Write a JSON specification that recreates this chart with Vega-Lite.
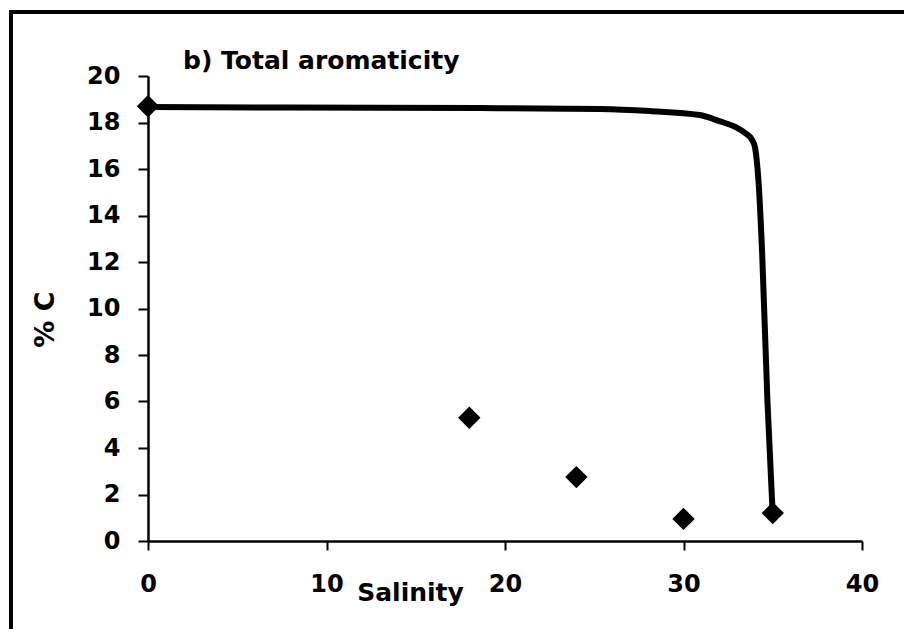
{
  "$schema": "https://vega.github.io/schema/vega-lite/v6.json",
  "width": 900,
  "height": 625,
  "autosize": {"type": "none"},
  "padding": {"left": 11, "top": 12, "right": 0, "bottom": 0},
  "background": "white",
  "config": {"view": {"stroke": "black", "strokeWidth": 4}, "font": "DejaVu Sans"},
  "title": {
    "text": "b) Total aromaticity",
    "anchor": "start",
    "frame": "group",
    "orient": "top",
    "offset": -58,
    "dx": 172,
    "dy": 24,
    "baseline": "alphabetic",
    "fontSize": 25,
    "fontWeight": "bold",
    "font": "DejaVu Sans",
    "color": "black"
  },
  "layer": [
    {
      "data": {"values": [
        {"salinity": 0, "pct": 18.67},
        {"salinity": 8, "pct": 18.64},
        {"salinity": 18.6, "pct": 18.62},
        {"salinity": 25.3, "pct": 18.58},
        {"salinity": 28.1, "pct": 18.49},
        {"salinity": 30.9, "pct": 18.32},
        {"salinity": 32.0, "pct": 18.06},
        {"salinity": 32.9, "pct": 17.81},
        {"salinity": 33.45, "pct": 17.55},
        {"salinity": 33.84, "pct": 17.25},
        {"salinity": 34.0, "pct": 16.95},
        {"salinity": 34.1, "pct": 16.4},
        {"salinity": 34.2, "pct": 15.5},
        {"salinity": 34.4, "pct": 12.5},
        {"salinity": 34.7, "pct": 6.06},
        {"salinity": 34.96, "pct": 1.76},
        {"salinity": 35.0, "pct": 1.2}
      ]},
      "mark": {"type": "line", "color": "black", "strokeWidth": 6, "interpolate": "monotone"},
      "encoding": {
        "x": {
          "field": "salinity", "type": "quantitative",
          "scale": {"domain": [0, 40], "range": [137, 851]},
          "axis": {
            "orient": "bottom", "offset": -96, "values": [0, 10, 20, 30, 40], "grid": false,
            "domainColor": "black", "domainWidth": 2.5, "tickColor": "black", "tickWidth": 2, "tickSize": 9,
            "labelFont": "DejaVu Sans", "labelFontSize": 24, "labelFontWeight": "bold", "labelColor": "black",
            "labelPadding": 22, "labelFlush": false,
            "title": "Salinity", "titleFont": "DejaVu Sans", "titleFontSize": 25, "titleFontWeight": "bold",
            "titleColor": "black", "titleX": 399, "titleY": 59, "titleBaseline": "alphabetic", "titleAlign": "center"
          }
        },
        "y": {
          "field": "pct", "type": "quantitative",
          "scale": {"domain": [0, 20], "range": [529, 64]},
          "axis": {
            "orient": "left", "offset": -137, "values": [0, 2, 4, 6, 8, 10, 12, 14, 16, 18, 20], "grid": false,
            "domainColor": "black", "domainWidth": 2.5, "tickColor": "black", "tickWidth": 2, "tickSize": 10,
            "labelFont": "DejaVu Sans", "labelFontSize": 24, "labelFontWeight": "bold", "labelColor": "black",
            "labelPadding": 18, "labelFlush": false,
            "title": "% C", "titleFont": "DejaVu Sans", "titleFontSize": 27, "titleFontWeight": "bold",
            "titleColor": "black", "titleX": -103, "titleY": 307, "titleBaseline": "middle", "titleAlign": "center", "titleAngle": -90
          }
        }
      }
    },
    {
      "data": {"values": [
        {"salinity": 0, "pct": 18.7},
        {"salinity": 18.0, "pct": 5.3},
        {"salinity": 24.0, "pct": 2.75},
        {"salinity": 30.0, "pct": 0.95},
        {"salinity": 35.0, "pct": 1.2}
      ]},
      "mark": {"type": "point", "shape": "diamond", "filled": true, "color": "black", "size": 500, "opacity": 1},
      "encoding": {
        "x": {"field": "salinity", "type": "quantitative"},
        "y": {"field": "pct", "type": "quantitative"}
      }
    }
  ]
}
